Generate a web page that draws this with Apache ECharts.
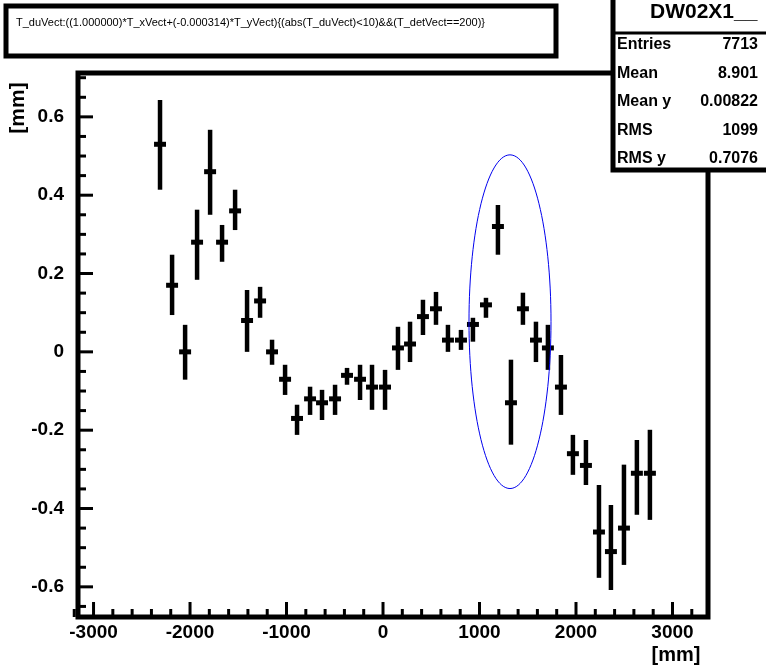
<!DOCTYPE html>
<html>
<head>
<meta charset="UTF-8">
<script src="https://cdn.jsdelivr.net/npm/echarts@6/dist/echarts.min.js"></script>
<style>body{margin:0;background:#fff}#c{width:766px;height:670px}</style>
</head>
<body>
<div id="c"></div>
<script>
// profile bins: centre x, mean y, error low/high
var binX = [-2311,-2186,-2051,-1927,-1792,-1668,-1533,-1409,-1274,-1150,-1015,-891,-756,-632,-497,-373,-238,-114,21,155,
  280,414,549,673,808,932,1067,1191,1326,1450,1585,1709,1844,1968,2103,2238,2362,2497,2631,2766];
var meanY = [0.53,0.17,0.0,0.28,0.46,0.28,0.36,0.08,0.13,0.0,-0.07,-0.17,-0.12,-0.13,-0.12,-0.06,-0.07,-0.09,-0.09,0.01,
  0.02,0.09,0.11,0.03,0.03,0.07,0.12,0.32,-0.13,0.11,0.03,0.01,-0.09,-0.26,-0.29,-0.46,-0.51,-0.45,-0.31,-0.31];
var errLo = [0.414,0.094,-0.071,0.184,0.350,0.230,0.311,0.0,0.087,-0.033,-0.110,-0.212,-0.161,-0.174,-0.161,-0.084,-0.123,-0.148,-0.148,-0.046,
  -0.026,0.043,0.069,0.0,0.005,0.026,0.087,0.248,-0.237,0.069,-0.026,-0.046,-0.161,-0.314,-0.340,-0.577,-0.608,-0.544,-0.416,-0.429];
var errHi = [0.643,0.248,0.069,0.363,0.567,0.324,0.414,0.158,0.166,0.031,-0.033,-0.135,-0.089,-0.097,-0.084,-0.041,-0.033,-0.033,-0.046,0.064,
  0.077,0.133,0.153,0.069,0.056,0.087,0.138,0.375,-0.020,0.151,0.077,0.069,-0.008,-0.212,-0.225,-0.340,-0.391,-0.288,-0.225,-0.199];
var binHalf = 62;

var xMajor = [-3000,-2000,-1000,0,1000,2000,3000];
var xMinor = [-3200,-2800,-2600,-2400,-2200,-1800,-1600,-1400,-1200,-800,-600,-400,-200,200,400,600,800,1200,1400,1600,1800,2200,2400,2600,2800,3200];
var yMajor = [-0.6,-0.4,-0.2,0,0.2,0.4,0.6];
var yMinor = [-0.65,-0.55,-0.5,-0.45,-0.35,-0.3,-0.25,-0.15,-0.1,-0.05,0.05,0.1,0.15,0.25,0.3,0.35,0.45,0.5,0.55,0.65,0.7];

var xMin = -3161, xMax = 3368, yMin = -0.677, yMax = 0.712;
var font = '"Liberation Sans", Arial, sans-serif';

var chart = echarts.init(document.getElementById('c'));

function errItem(params, api) {
  var i = params.dataIndex;
  var top = api.coord([binX[i], errHi[i]]);
  var bot = api.coord([binX[i], errLo[i]]);
  var l = api.coord([binX[i] - binHalf, meanY[i]]);
  var r = api.coord([binX[i] + binHalf, meanY[i]]);
  return {type: 'group', children: [
    {type: 'line', shape: {x1: top[0], y1: top[1], x2: bot[0], y2: bot[1]}, style: {stroke: '#000', lineWidth: 4.5}},
    {type: 'line', shape: {x1: l[0], y1: l[1], x2: r[0], y2: r[1]}, style: {stroke: '#000', lineWidth: 5}}
  ]};
}

function xTick(len, label) {
  return function (params, api) {
    var v = api.value(0);
    var p = api.coord([v, yMin]);
    var ch = [{type: 'line', shape: {x1: p[0], y1: p[1], x2: p[0], y2: p[1] - len}, style: {stroke: '#000', lineWidth: 3}}];
    if (label) ch.push({type: 'text', x: p[0], y: p[1] + 6, style: {text: String(v), font: 'bold 19px ' + font, fill: '#000', align: 'center', verticalAlign: 'top'}});
    return {type: 'group', children: ch};
  };
}
function yTick(len, label) {
  return function (params, api) {
    var v = api.value(1);
    var p = api.coord([xMin, v]);
    var ch = [{type: 'line', shape: {x1: p[0], y1: p[1], x2: p[0] + len, y2: p[1]}, style: {stroke: '#000', lineWidth: 3}}];
    if (label) ch.push({type: 'text', x: p[0] - 14, y: p[1], style: {text: String(v), font: 'bold 19px ' + font, fill: '#000', align: 'right', verticalAlign: 'middle'}});
    return {type: 'group', children: ch};
  };
}

chart.setOption({
  animation: false,
  grid: {left: 78, right: 58, top: 73, bottom: 53, show: true, borderColor: '#000', borderWidth: 5},
  xAxis: {type: 'value', min: xMin, max: xMax, axisLine: {show: false}, axisTick: {show: false}, axisLabel: {show: false}, splitLine: {show: false}},
  yAxis: {type: 'value', min: yMin, max: yMax, axisLine: {show: false}, axisTick: {show: false}, axisLabel: {show: false}, splitLine: {show: false}},
  series: [
    {type: 'custom', renderItem: errItem, data: binX.map(function (x, i) { return [x, meanY[i]]; }), clip: false},
    {type: 'custom', renderItem: xTick(15, true), data: xMajor.map(function (v) { return [v, 0]; })},
    {type: 'custom', renderItem: xTick(8, false), data: xMinor.map(function (v) { return [v, 0]; })},
    {type: 'custom', renderItem: yTick(15, true), data: yMajor.map(function (v) { return [0, v]; })},
    {type: 'custom', renderItem: yTick(8, false), data: yMinor.map(function (v) { return [0, v]; })}
  ],
  graphic: [
    {type: 'rect', shape: {x: 6, y: 6, width: 550, height: 50}, style: {fill: '#fff', stroke: '#000', lineWidth: 5}},
    {type: 'text', x: 16, y: 23, style: {text: 'T_duVect:((1.000000)*T_xVect+(-0.000314)*T_yVect){(abs(T_duVect)<10)&&(T_detVect==200)}', font: '11px ' + font, fill: '#000', verticalAlign: 'middle'}},
    {type: 'text', x: 18, y: 108, rotation: Math.PI / 2, style: {text: '[mm]', font: 'bold 21px ' + font, fill: '#000', align: 'center', verticalAlign: 'middle'}},
    {type: 'text', x: 676, y: 645, style: {text: '[mm]', font: 'bold 20px ' + font, fill: '#000', align: 'center', verticalAlign: 'top'}},
    {type: 'rect', shape: {x: 613, y: -5, width: 160, height: 175}, style: {fill: '#fff', stroke: '#000', lineWidth: 5}},
    {type: 'line', shape: {x1: 613, y1: 33, x2: 766, y2: 33}, style: {stroke: '#000', lineWidth: 3}},
    {type: 'text', x: 650, y: 12, style: {text: 'DW02X1__', font: 'bold 21px ' + font, fill: '#000', verticalAlign: 'middle'}}
  ].concat([['Entries','7713'],['Mean','8.901'],['Mean y','0.00822'],['RMS','1099'],['RMS y','0.7076']].reduce(function (a, r, i) {
    var y = 45 + i * 28.5;
    a.push({type: 'text', x: 617, y: y, style: {text: r[0], font: 'bold 16px ' + font, fill: '#000', verticalAlign: 'middle'}});
    a.push({type: 'text', x: 758, y: y, style: {text: r[1], font: 'bold 16px ' + font, fill: '#000', align: 'right', verticalAlign: 'middle'}});
    return a;
  }, []))
});

// ellipse around the outlier region, placed in data coordinates
var c0 = chart.convertToPixel({gridIndex: 0}, [1316, 0.077]);
var c1 = chart.convertToPixel({gridIndex: 0}, [1316 + 425, 0.077 + 0.426]);
chart.setOption({graphic: [{type: 'ellipse', id: 'ell', shape: {cx: c0[0], cy: c0[1], rx: Math.abs(c1[0] - c0[0]), ry: Math.abs(c1[1] - c0[1])}, style: {fill: 'none', stroke: '#0000ee', lineWidth: 1}, z: 10}]});
</script>
</body>
</html>
